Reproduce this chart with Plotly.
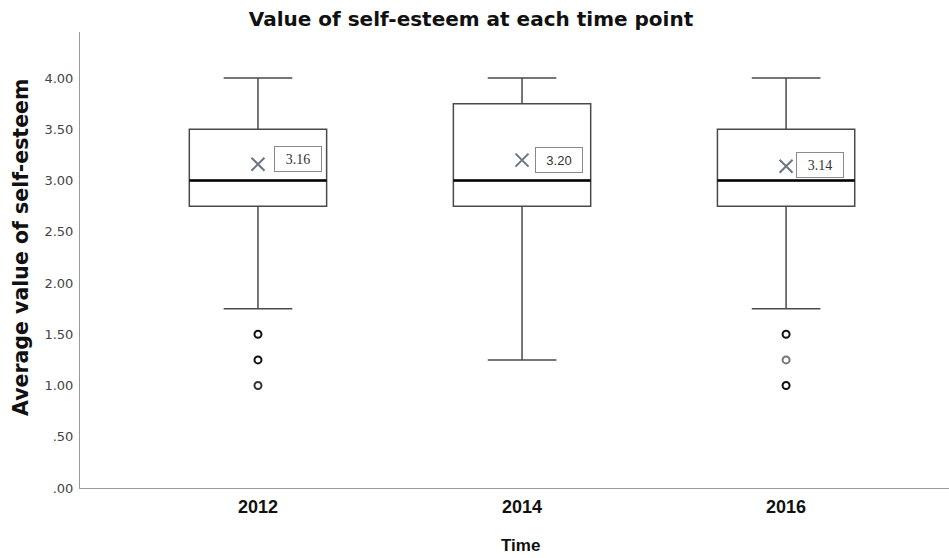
import plotly.graph_objects as go

years = ["2012", "2014", "2016"]
q1 = [2.75, 2.75, 2.75]
median = [3.0, 3.0, 3.0]
q3 = [3.5, 3.75, 3.5]
lower_whisker = [1.75, 1.25, 1.75]
upper_whisker = [4.0, 4.0, 4.0]
means = [3.16, 3.20, 3.14]
mean_labels = ["3.16", "3.20", "3.14"]
outlier_year_idx = [0, 0, 0, 2, 2, 2]
outlier_vals = [1.5, 1.25, 1.0, 1.5, 1.25, 1.0]

ytick_vals = [0, 0.5, 1, 1.5, 2, 2.5, 3, 3.5, 4]
ytick_text = [".00", ".50", "1.00", "1.50", "2.00", "2.50", "3.00", "3.50", "4.00"]

# styling (not data)
outlier_colors = ["#111", "#111", "#333", "#111", "#777", "#111"]
label_fonts = ["Liberation Serif", "Liberation Sans", "Liberation Serif"]
label_sizes = [14, 13, 14]
label_xshift = [16, 13, 10]
label_yshift = [5, 0, 1]

W, H = 949, 558
L, R, T, B = 80, 0, 32, 70
PW, PH = W - L - R, H - T - B

BOX_W = 0.52
xpos = list(range(len(years)))

fig = go.Figure()
fig.add_trace(go.Box(
    x=xpos, q1=q1, median=median, q3=q3,
    lowerfence=lower_whisker, upperfence=upper_whisker,
    width=BOX_W, whiskerwidth=0.5,
    fillcolor="rgba(0,0,0,0)",
    line=dict(color="#4a4a4a", width=1.5),
    boxpoints=False, showlegend=False, hoverinfo="skip",
))

for i, m in enumerate(median):
    fig.add_shape(type="line", x0=i - BOX_W / 2, x1=i + BOX_W / 2, y0=m, y1=m,
                  xref="x", yref="y", line=dict(color="#000000", width=2.5))

fig.add_trace(go.Scatter(
    x=outlier_year_idx, y=outlier_vals, mode="markers",
    marker=dict(symbol="circle-open", size=7, color=outlier_colors,
                line=dict(width=2, color=outlier_colors)),
    showlegend=False, hoverinfo="skip",
))

fig.add_trace(go.Scatter(
    x=xpos, y=means, mode="markers",
    marker=dict(symbol="x-thin", size=13, line=dict(width=2, color="#6d7585")),
    showlegend=False, hoverinfo="skip",
))

for i, (m, t) in enumerate(zip(means, mean_labels)):
    fig.add_annotation(x=i, y=m, xref="x", yref="y", text=t, showarrow=False,
                       xanchor="left", yanchor="middle",
                       xshift=label_xshift[i], yshift=label_yshift[i],
                       width=40, height=18, align="center",
                       font=dict(family=label_fonts[i], size=label_sizes[i], color="#333333"),
                       bordercolor="#8a8a8a", borderwidth=1, borderpad=3,
                       bgcolor="white")

fig.add_annotation(text="<b>Average value of self-esteem</b>", textangle=-90,
                   xref="paper", yref="paper",
                   x=(21 - L) / PW, y=(H - B - 248) / PH,
                   xanchor="center", yanchor="middle", showarrow=False,
                   font=dict(size=20.5, color="#111", family="DejaVu Sans"))
fig.add_annotation(text="<b>Time</b>", xref="paper", yref="paper",
                   x=(520 - L) / PW, y=(H - B - 545) / PH,
                   xanchor="center", yanchor="middle", showarrow=False,
                   font=dict(size=17, color="#111", family="Liberation Sans"))

fig.update_layout(
    width=W, height=H,
    margin=dict(l=L, r=R, t=T, b=B),
    paper_bgcolor="white", plot_bgcolor="white",
    font=dict(family="Liberation Sans, Arial, sans-serif", color="#222"),
    title=dict(text="<b>Value of self-esteem at each time point</b>",
               xref="container", x=471 / W, xanchor="center",
               y=1 - 19 / H, yanchor="middle",
               font=dict(size=20, color="#111", family="DejaVu Sans")),
)

fig.update_xaxes(
    range=[-0.674, 2.617], tickmode="array", tickvals=xpos,
    ticktext=["<b>%s</b>" % y for y in years],
    tickfont=dict(size=18, color="#111", family="Liberation Sans"),
    showline=True, linecolor="#999999", linewidth=1, showgrid=False, zeroline=False,
    ticks="outside", ticklen=2, tickcolor="rgba(0,0,0,0)",
)
fig.update_yaxes(
    range=[0, 4.45], tickmode="array", tickvals=ytick_vals, ticktext=ytick_text,
    tickfont=dict(size=13, color="#444", family="DejaVu Sans"),
    showline=True, linecolor="#999999", linewidth=1, showgrid=False, zeroline=False,
    ticks="outside", ticklen=3, tickcolor="rgba(0,0,0,0)",
)

fig.write_html("out.html", config={"displayModeBar": False},
               post_script="document.body.style.margin='0';document.body.style.overflow='hidden';")
